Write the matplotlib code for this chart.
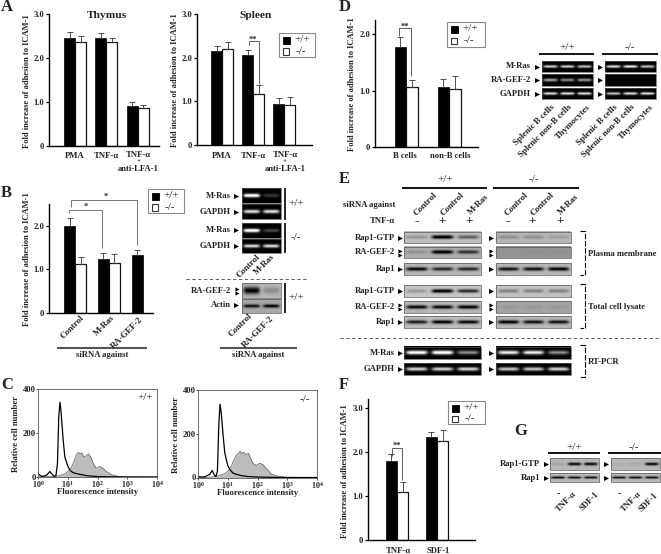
import matplotlib
matplotlib.use('Agg')
import matplotlib.pyplot as plt
from matplotlib.patches import Rectangle
import numpy as np

plt.rcParams['font.family'] = ['Liberation Serif', 'DejaVu Serif']
plt.rcParams['font.weight'] = 'bold'
plt.rcParams['mathtext.fontset'] = 'custom'
plt.rcParams['mathtext.rm'] = 'Liberation Serif:bold'
plt.rcParams['mathtext.default'] = 'rm'

# bar data: value and top of the error bar
thymus_wt = [2.45, 2.45, 0.90]
thymus_wt_top = [2.60, 2.57, 1.01]
thymus_ko = [2.37, 2.37, 0.87]
thymus_ko_top = [2.49, 2.45, 0.94]

spleen_wt = [2.15, 2.05, 0.95]
spleen_wt_top = [2.26, 2.17, 1.07]
spleen_ko = [2.20, 1.17, 0.91]
spleen_ko_top = [2.35, 1.38, 1.10]

sirna_wt = [2.00, 1.24, 1.32]
sirna_wt_top = [2.18, 1.38, 1.45]
sirna_ko = [1.11, 1.14]
sirna_ko_top = [1.29, 1.36]

bcell_wt = [1.78, 1.06]
bcell_wt_top = [1.95, 1.20]
bcell_ko = [1.06, 1.03]
bcell_ko_top = [1.18, 1.25]

tnf_wt = [1.80, 2.35]
tnf_wt_top = [1.95, 2.45]
tnf_ko = [1.10, 2.24]
tnf_ko_top = [1.33, 2.50]

# flow cytometry histograms
flow_x = [1, 1.3, 1.7, 2, 2.5, 3, 3.5, 4, 4.5, 5, 5.5, 6, 7, 8, 10, 12, 15, 20, 30, 50, 100, 200, 1000, 10000]
flow_wt_line = [15, 3, 5, 10, 25, 12, 3, 5, 60, 280, 340, 290, 170, 90, 50, 30, 20, 15, 10, 5, 2, 1, 0, 0]
flow_ko_line = [5, 2, 3, 8, 15, 32, 12, 4, 30, 240, 335, 300, 190, 110, 55, 35, 20, 14, 8, 4, 2, 1, 0, 0]
fill_x = [1, 3, 5, 8, 10, 13, 16, 20, 23, 26, 30, 35, 40, 50, 60, 70, 90, 120, 150, 200, 300, 500, 1000, 10000]
flow_wt_fill = [0, 3, 5, 15, 25, 40, 70, 105, 112, 105, 110, 90, 95, 105, 90, 65, 40, 48, 40, 25, 10, 3, 1, 0]
flow_ko_fill = [0, 2, 8, 18, 28, 50, 80, 105, 110, 120, 110, 115, 105, 110, 85, 65, 55, 65, 60, 40, 15, 5, 1, 0]

# blot band strengths per lane
d_mras = [[0.75, 0.75, 0.7], [0.8, 0.85, 0.7]]
d_gef = [[0.6, 0.5, 0.55], [0, 0, 0]]
d_gapdh = [[0.8, 0.8, 0.8], [0.7, 0.8, 0.8]]

b_mras1 = [1.0, 0.2]
b_gapdh1 = [0.8, 0.8]
b_mras2 = [1.0, 0.25]
b_gapdh2 = [0.8, 0.8]
b_gef = [0.85, 0.2]
b_actin = [0.8, 0.9]

e_gtp_pm = [[0.2, 1.0, 0.45], [0.2, 0.2, 0.12]]
e_gef_pm = [[0.15, 0.95, 0.65], [0, 0.03, 0.03]]
e_rap_pm = [[0.85, 0.7, 0.7], [0.8, 0.8, 0.9]]
e_gtp_tl = [[0.2, 0.95, 0.7], [0.3, 0.3, 0.3]]
e_gef_tl = [[0.85, 0.85, 0.9], [0.05, 0.05, 0.05]]
e_rap_tl = [[0.75, 0.9, 0.85], [0.9, 0.8, 0.8]]
e_mras = [[0.95, 1.0, 0.5], [0.85, 0.85, 0.5]]
e_gapdh = [[0.75, 0.75, 0.75], [0.7, 0.7, 0.75]]

g_gtp = [[0.1, 0.85, 0.85], [0.05, 0.08, 0.85]]
g_rap = [[0.9, 0.85, 0.85], [0.85, 0.85, 0.85]]

W, H = 661, 554
fig = plt.figure(figsize=(W / 100, H / 100), dpi=100)
ov = fig.add_axes([0, 0, 1, 1], zorder=5)
ov.set_xlim(0, W)
ov.set_ylim(H, 0)
ov.axis('off')
ov.patch.set_alpha(0)


def txt(x, y, s, size=6.2, ha='center', va='center', **kw):
    ov.text(x, y, s, fontsize=size, ha=ha, va=va, color='#222222', **kw)


def slant(x, y, s, size=6.4):
    # rotated label, x and y are where the text ends
    ov.text(x, y, s, fontsize=size, ha='right', va='center', rotation=45,
            rotation_mode='anchor', color='#222222')


def line(xs, ys, lw=0.9, color='k', **kw):
    ov.plot(xs, ys, color=color, lw=lw, solid_capstyle='butt', **kw)


def bar_axes(x0, x1, ytop, ybot, ymax, c0, step, ticks, ticklabels, ylab_x):
    ax = fig.add_axes([x0 / W, 1 - ybot / H, (x1 - x0) / W, (ybot - ytop) / H])
    ax.set_xlim((x0 - c0) / step, (x1 - c0) / step)
    ax.set_ylim(0, ymax)
    ax.patch.set_alpha(0)
    for s in ['top', 'right']:
        ax.spines[s].set_visible(False)
    for s in ['left', 'bottom']:
        ax.spines[s].set_linewidth(1.0)
    ax.set_yticks(ticks)
    ax.set_yticklabels(ticklabels, fontsize=6.2, color='#222222')
    ax.tick_params(axis='y', length=2, width=0.9, pad=1.5)
    ax.set_xticks([])
    txt(ylab_x, (ytop + ybot) / 2 + 1, 'Fold increase of adhesion to ICAM-1', size=6.1, rotation=90)
    return ax


def bars(ax, wt, wt_top, ko, ko_top, width):
    pos = np.arange(len(wt))
    ax.bar(pos - width / 2, wt, width, color='k', edgecolor='k', lw=0.5)
    ax.errorbar(pos - width / 2, wt, yerr=[np.zeros(len(wt)), np.array(wt_top) - np.array(wt)],
                fmt='none', ecolor='#333333', elinewidth=0.6, capsize=2.5, capthick=0.6)
    pos2 = np.arange(len(ko))
    ax.bar(pos2 + width / 2, ko, width, color='white', edgecolor='#111111', lw=0.9)
    ax.errorbar(pos2 + width / 2, ko, yerr=[np.zeros(len(ko)), np.array(ko_top) - np.array(ko)],
                fmt='none', ecolor='#333333', elinewidth=0.6, capsize=2.5, capthick=0.6)


def legend_box(x0, y0, x1, y1):
    ov.add_patch(Rectangle((x0, y0), x1 - x0, y1 - y0, fc='white', ec='#888888', lw=0.8))
    h = (y1 - y0) / 2
    ov.add_patch(Rectangle((x0 + 3.5, y0 + 3.5), 7, 7, fc='k', ec='k', lw=0.6))
    ov.add_patch(Rectangle((x0 + 3.5, y0 + h + 3), 6.5, 6.5, fc='white', ec='#333333', lw=0.8))
    ov.text(x0 + 15, y0 + h / 2 + 0.5, '+/+', fontsize=8, fontweight='normal', va='center', color='#222222')
    ov.text(x0 + 17, y0 + 1.5 * h, '-/-', fontsize=8, fontweight='normal', va='center', color='#222222')


def blot(x0, x1, y0, y1, lanes, dark=False, band=0.12, bg=0.78):
    # lanes are band strengths; each one is painted as a soft streak
    n = 60
    yy = np.linspace(-1, 1, 40)[:, None]
    xx = (np.arange(n) + 0.5) / n
    img = np.zeros((40, n))
    for i, v in enumerate(lanes):
        c = (i + 0.5) / len(lanes)
        prof = np.exp(-((xx - c) / (0.42 / len(lanes))) ** 6)
        img += v * prof * np.exp(-(yy / (band * 2)) ** 2)
    if dark:
        pic = np.clip(img * 1.15, 0, 1)
    else:
        pic = np.clip(bg * (1 - img * 1.2), 0, 1)
    ov.imshow(pic, extent=[x0, x1, y1, y0], cmap='gray', vmin=0, vmax=1, aspect='auto',
              interpolation='bilinear', zorder=2)
    ov.add_patch(Rectangle((x0, y0), x1 - x0, y1 - y0, fc='none', ec='#555555', lw=0.5, zorder=3))


def arrow(x, y, size=6):
    ov.plot([x], [y], marker='>', ms=size * 0.6, color='k', mew=0)


def flow(x0, x1, y0, y1, line_vals, fill_vals, tag, tag_x, tag_y):
    ax = fig.add_axes([x0 / W, 1 - y1 / H, (x1 - x0) / W, (y1 - y0) / H])
    ax.set_xscale('log')
    ax.set_xlim(1, 10000)
    ax.set_ylim(0, 400)
    ax.fill_between(fill_x, fill_vals, color='#bcbcbc', lw=0)
    ax.plot(fill_x, fill_vals, color='#555555', lw=0.5)
    ax.plot(flow_x, line_vals, color='k', lw=0.9)
    ax.set_yticks([0, 200, 400])
    ax.set_yticklabels(['0', '200', '400'], fontsize=6.2, color='#222222')
    ax.set_xticks([1, 10, 100, 1000, 10000])
    ax.set_xticklabels(['10$^{0}$', '10$^{1}$', '10$^{2}$', '10$^{3}$', '10$^{4}$'], fontsize=5.8, color='#222222')
    ax.minorticks_off()
    ax.tick_params(length=1.2, width=0.5, pad=0.5)
    for s in ax.spines.values():
        s.set_linewidth(0.6)
        s.set_color('#555555')
    txt((x0 + x1) / 2, y1 + 15.5, 'Fluorescence intensity', size=6.2)
    txt(x0 - 22, (y0 + y1) / 2 + 1, 'Relative cell number', size=6.2, rotation=90)
    ov.text(tag_x, tag_y, tag, fontsize=8, fontweight='normal', ha='center', va='center', color='#222222')


def panel(x, y, s):
    txt(x, y, s, size=12, ha='left')


# panel A
panel(1, 7, 'A')
ax = bar_axes(49, 159, 14, 146, 3.0, 75, 31.3, [0, 1, 2, 3], ['0', '1.0', '2.0', '3.0'], 27)
bars(ax, thymus_wt, thymus_wt_top, thymus_ko, thymus_ko_top, 11 / 31.3)
txt(107, 15, 'Thymus', size=8.2)
ax = bar_axes(197, 312, 14, 145, 3.0, 222, 31, [0, 1, 2, 3], ['0', '1.0', '2.0', '3.0'], 175)
bars(ax, spleen_wt, spleen_wt_top, spleen_ko, spleen_ko_top, 11 / 31)
txt(256, 15, 'Spleen', size=8.2)
for c, step in [(75, 31.3), (222, 31)]:
    txt(c, 156, 'PMA')
    txt(c + step, 156, 'TNF-α')
    txt(c + 2 * step + 1, 155, 'TNF-α')
    txt(c + 2 * step + 1, 162, '+', size=5)
    txt(c + 2 * step + 1, 169, 'anti-LFA-1')
line([249, 249, 259, 259], [45, 41, 41, 84], lw=0.6, color='#444444')
txt(253, 40, '**', size=6)
legend_box(279, 33, 315, 57)

# panel B
panel(1, 193, 'B')
ax = bar_axes(49, 153, 204, 312.7, 2.5, 75, 33.8, [0, 1, 2], ['0', '1.0', '2.0'], 27)
bars(ax, sirna_wt, sirna_wt_top, sirna_ko, sirna_ko_top, 11 / 33.8)
line([69, 69, 102, 102], [213, 210, 210, 248], lw=0.7, color='#777777')
line([71, 71, 137, 137], [207, 200, 200, 245], lw=0.7, color='#777777')
txt(86, 207, '*', size=6)
txt(106, 197, '*', size=6)
legend_box(148, 189, 184, 213)
slant(83, 317, 'Control')
slant(113, 317, 'M-Ras')
slant(142, 318, 'RA-GEF-2')
line([57, 147], [348, 348], lw=1.5, color='#555555')
txt(102, 355, 'siRNA against')

blot(242, 281, 188, 203, b_mras1, dark=True)
blot(242, 281, 204, 219, b_gapdh1, dark=True)
blot(242, 281, 223, 238, b_mras2, dark=True)
blot(242, 281, 239, 253, b_gapdh2, dark=True)
blot(242, 281, 283, 298, b_gef, band=0.24, bg=0.72)
blot(242, 281, 299, 313, b_actin, band=0.12, bg=0.66)
for y, s in [(196, 'M-Ras'), (212, 'GAPDH'), (230, 'M-Ras'), (246, 'GAPDH')]:
    txt(231, y, s, ha='right')
    arrow(236, y)
txt(231, 291, 'RA-GEF-2', ha='right')
arrow(237, 289, 5)
arrow(237, 293, 5)
txt(231, 305, 'Actin', ha='right')
arrow(236, 305)
for y0, y1 in [(188, 220), (223, 253), (283, 313)]:
    line([285, 285], [y0, y1], lw=1.2)
txt(296, 204, '+/+', size=8, fontweight='normal')
txt(296, 238, '-/-', size=8, fontweight='normal')
txt(296, 297, '+/+', size=8, fontweight='normal')
line([186, 307], [279, 279], lw=0.6, color='#444444', ls=(0, (4, 3)))
slant(259, 256, 'Control')
slant(273, 256, 'M-Ras')
slant(251, 315, 'Control')
slant(273, 317, 'RA-GEF-2')
line([220, 297], [348, 348], lw=1.5, color='#555555')
txt(258, 355, 'siRNA against')

# panel C
panel(1, 385, 'C')
flow(38, 157, 389, 477, flow_wt_line, flow_wt_fill, '+/+', 145, 398)
flow(198, 317, 390, 477.5, flow_ko_line, flow_ko_fill, '-/-', 305, 400)

# panel D
panel(339, 7, 'D')
ax = bar_axes(375, 478, 20, 147, 2.25, 406, 43, [0, 1, 2], ['0', '1.0', '2.0'], 352)
bars(ax, bcell_wt, bcell_wt_top, bcell_ko, bcell_ko_top, 11.5 / 43)
line([399, 399, 411, 411], [36, 28, 28, 76], lw=0.6, color='#444444')
txt(405, 27, '**', size=6)
legend_box(447, 22, 485, 47)
txt(405, 156, 'B cells')
txt(450, 156, 'non-B cells')

line([539, 594], [54, 54], lw=1.3)
line([602, 658], [54, 54], lw=1.3)
txt(567, 48, '+/+', size=8, fontweight='normal')
txt(630, 48, '-/-', size=8, fontweight='normal')
rows_d = [(61, 72, d_mras, 'M-Ras'), (74, 86, d_gef, 'RA-GEF-2'), (88, 99, d_gapdh, 'GAPDH')]
for y0, y1, lanes, s in rows_d:
    blot(542, 593, y0, y1, lanes[0], dark=True)
    blot(605, 656, y0, y1, lanes[1], dark=True)
    txt(531, (y0 + y1) / 2, s, ha='right')
    arrow(537, (y0 + y1) / 2)
    arrow(600, (y0 + y1) / 2)
for xe in [553, 616]:
    slant(xe, 106, 'Splenic B cells')
    slant(xe + 18, 106, 'Splenic non-B cells')
    slant(xe + 36, 106, 'Thymocytes')

# panel E
panel(339, 179, 'E')
line([402, 487], [188, 188], lw=1.3)
line([493, 579], [188, 188], lw=1.3)
txt(445, 180, '+/+', size=8, fontweight='normal')
txt(534, 180, '-/-', size=8, fontweight='normal')
txt(395, 205, 'siRNA against', ha='right')
txt(395, 221, 'TNF-α', ha='right')
slant(436, 194, 'Control')
slant(463, 194, 'Control')
slant(487, 196, 'M-Ras')
slant(527, 194, 'Control')
slant(553, 194, 'Control')
slant(577, 196, 'M-Ras')
for x, s in [(417, '-'), (442, '+'), (469, '+'), (508, '-'), (532, '+'), (560, '+')]:
    txt(x, 221, s, size=9.5)
rows_e = [(231.7, 243.3, e_gtp_pm, 'Rap1-GTP', False, 0.75, 0.72), (246.7, 258.3, e_gef_pm, 'RA-GEF-2', False, 0.68, 0.58),
          (262.7, 274.7, e_rap_pm, 'Rap1', False, 0.72, 0.72), (285.3, 297.3, e_gtp_tl, 'Rap1-GTP', False, 0.78, 0.76),
          (301, 312.7, e_gef_tl, 'RA-GEF-2', False, 0.72, 0.64), (316, 327.7, e_rap_tl, 'Rap1', False, 0.74, 0.72),
          (347, 359.3, e_mras, 'M-Ras', True, 0, 0), (362.7, 374.7, e_gapdh, 'GAPDH', True, 0, 0)]
for y0, y1, lanes, s, dark, bg_l, bg_r in rows_e:
    ym = (y0 + y1) / 2
    blot(404, 481, y0, y1, lanes[0], dark=dark, bg=bg_l, band=0.15)
    blot(496, 571, y0, y1, lanes[1], dark=dark, bg=bg_r, band=0.15)
    txt(395, ym, s, ha='right')
    if s == 'RA-GEF-2':
        for dy in (-2, 2):
            arrow(400, ym + dy, 5)
            arrow(491, ym + dy, 5)
    else:
        arrow(400, ym)
        arrow(491, ym)
for y0, y1, s in [(231, 275, 'Plasma membrane'), (284, 328, 'Total cell lysate'), (345, 377, 'RT-PCR')]:
    line([580, 585, 585, 580], [y0, y0, y1, y1], lw=0.8, ls=(0, (5, 1.5)))
    txt(588, (y0 + y1) / 2 + 1, s, ha='left')
line([340, 658], [337.7, 337.7], lw=0.6, color='#444444', ls=(0, (4, 3)))

# panel F
panel(339, 385, 'F')
ax = bar_axes(368, 475, 399, 540.3, 3.2, 397, 40, [0, 1, 2, 3], ['0', '1.0', '2.0', '3.0'], 345)
bars(ax, tnf_wt, tnf_wt_top, tnf_ko, tnf_ko_top, 11.3 / 40)
line([392, 392, 402, 402], [456, 448, 448, 480], lw=0.6, color='#444444')
txt(397, 446, '**', size=6)
legend_box(448, 401, 485, 424)
txt(398, 551, 'TNF-α')
txt(438, 551, 'SDF-1')

# panel G
panel(514, 431, 'G')
line([548, 600], [453, 453], lw=1.3)
line([608, 661], [453, 453], lw=1.3)
txt(574, 447, '+/+', size=8, fontweight='normal')
txt(634, 447, '-/-', size=8, fontweight='normal')
for y0, y1, lanes, s, bg in [(458, 470, g_gtp, 'Rap1-GTP', 0.72), (473, 482, g_rap, 'Rap1', 0.72)]:
    ym = (y0 + y1) / 2
    blot(550, 599, y0, y1, lanes[0], bg=bg)
    blot(611, 660, y0, y1, lanes[1], bg=bg)
    txt(540, ym, s, ha='right')
    arrow(546, ym)
    arrow(606, ym)
txt(558, 494, '-', size=7)
txt(619, 494, '-', size=7)
slant(575, 493, 'TNF-α', size=6.2)
slant(598, 493, 'SDF-1', size=6.2)
slant(640, 493, 'TNF-α', size=6.2)
slant(657, 494, 'SDF-1', size=6.2)

ov.set_xlim(0, W)
ov.set_ylim(H, 0)
fig.savefig('out.png', dpi=100)
